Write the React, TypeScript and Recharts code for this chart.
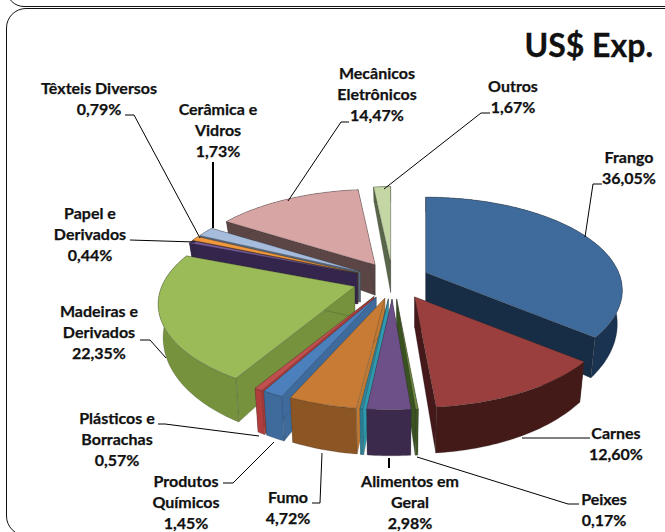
import { Pie, PieChart } from "recharts";

const CATEGORIES = [
  "Frango", "Carnes", "Peixes", "Alimentos em Geral", "", "Fumo", "Produtos Químicos",
  "Plásticos e Borrachas", "Madeiras e Derivados", "Papel e Derivados", "Têxteis Diversos",
  "Cerâmica e Vidros", "Mecânicos Eletrônicos", "Outros",
];
const VALUES = [36.05, 12.6, 0.17, 2.98, 0.21, 4.72, 1.45, 0.57, 22.35, 0.44, 0.79, 1.73, 14.47, 1.67];

const TOP_COLORS = ["#3F6A9C", "#9A3F3D", "#6F8B3F", "#6D5088", "#31849B", "#C77B35", "#4B80BD", "#C0504D", "#9BBB59", "#7A5A9E", "#F3983B", "#A6BCDD", "#D8A5A5", "#C3D6A4"];
const WALL_COLORS = ["#1A3350", "#431A17", "#3E5522", "#3B2A4C", "#2A7F96", "#8C5524", "#3E6A9C", "#B03C3C", "#76923C", "#33254B", "#7A4A1A", "#5A6A80", "#5B4545", "#59664A"];
const CUT_COLORS = ["#172C45", "#45181A", "#3A5220", "#3B2A4C", "#2E9AAF", "#C07A33", "#3E6A9C", "#A83A3A", "#76923C", "#33254B", "#7A4A1A", "#5A6A80", "#5B4545", "#59664A"];

// back to front, a 3D pie has to be painted in this order
const PAINT_ORDER = [13, 12, 11, 10, 9, 8, 0, 1, 7, 6, 5, 4, 2, 3];

// the original explosion is not quite uniform, small sideways nudge per slice
const NUDGE_X = [0, 5, 1, 0, 0, 2, 0, 0, -3, -1, -1, 0, 2, 0];

// label lines, centre x, first baseline middle y
const LABEL_LINES: string[][] = [
  ["Frango"], ["Carnes"], ["Peixes"], ["Alimentos em", "Geral"], [], ["Fumo"], ["Produtos", "Químicos"],
  ["Plásticos e", "Borrachas"], ["Madeiras e", "Derivados"], ["Papel e", "Derivados"], ["Têxteis Diversos"],
  ["Cerâmica e", "Vidros"], ["Mecânicos", "Eletrônicos"], ["Outros"],
];
const LABEL_X = [629, 616, 604, 410, 0, 288, 186, 117, 99, 90, 99, 218, 377, 513];
const LABEL_Y = [158, 434, 500, 482, 0, 498, 482, 419, 312, 214, 89, 110, 74, 87];
const LEADERS = [
  "602,184 593,184 585,237",
  "590,438 522,438",
  "579,504 568,504 417,457",
  "389,458 389,468",
  "",
  "322,453 320,503 312,503",
  "274,442 233,483 223,483",
  "158,424 165,424 259,436",
  "140,340 150,340 166,358",
  "130,240 195,242",
  "125,115 134,115 200,238",
  "213,162 213,228",
  "349,122 341,122 288,201",
  "490,113 481,113 384,189",
];
const THICK_LEADERS = [3, 11];

const CX = 392.5;
const CY = 280.5;
const RADIUS = 193;
const EXPLODE_X = 36.7;
const EXPLODE_Y = 18.5;
const TILT = 0.465;
const PERSPECTIVE = 0.19;
const rad = (deg: number) => (deg * Math.PI) / 180;

const tableData = CATEGORIES.map((name, i) => ({ name, value: VALUES[i] }));

function depthAt(z: number) {
  return 30.5 + 15.5 * z;
}

function project(ax: number, ay: number, theta: number, r: number, bottom: boolean): [number, number] {
  const z = -Math.cos(rad(theta));
  const f = 1 / (1 - PERSPECTIVE * z);
  const x = Math.sin(rad(theta)) * r * f;
  const y = TILT * r * z * f;
  if (bottom) return [ax + x * 0.975, ay + y + depthAt(z)];
  return [ax + x, ay + y];
}

const pts = (list: [number, number][]) =>
  "M" + list.map((p) => `${p[0].toFixed(1)},${p[1].toFixed(1)}`).join("L") + "Z";

function Slice3D(props: any) {
  const { cx, cy, outerRadius, startAngle, endAngle, index } = props;
  const t0 = 90 - startAngle;
  const t1 = 90 - endAngle;
  const mid = (t0 + t1) / 2;
  const ax = cx + EXPLODE_X * Math.sin(rad(mid)) + NUDGE_X[index];
  const ay = cy - EXPLODE_Y * Math.cos(rad(mid));
  const steps = Math.max(2, Math.ceil(t1 - t0));
  const topArc: [number, number][] = [];
  const lowArc: [number, number][] = [];
  for (let i = 0; i <= steps; i++) {
    const t = t0 + ((t1 - t0) * i) / steps;
    topArc.push(project(ax, ay, t, outerRadius, false));
    lowArc.push(project(ax, ay, t, outerRadius, true));
  }
  const apexTop: [number, number] = [ax, ay];
  const apexLow: [number, number] = [ax, ay + depthAt(0)];
  const edge = "rgba(50,50,50,0.45)";
  return (
    <g>
      <path d={pts([apexTop, topArc[0], lowArc[0], apexLow])} fill={CUT_COLORS[index]} stroke={edge} strokeWidth={0.5} />
      <path d={pts([apexTop, topArc[steps], lowArc[steps], apexLow])} fill={CUT_COLORS[index]} stroke={edge} strokeWidth={0.5} />
      <path d={pts([...topArc, ...[...lowArc].reverse()])} fill={WALL_COLORS[index]} stroke={edge} strokeWidth={0.5} />
      <path d={pts([apexTop, ...topArc])} fill={TOP_COLORS[index]} stroke={edge} strokeWidth={0.6} />
    </g>
  );
}

function SliceLabel(props: any) {
  const { index } = props;
  const lines = LABEL_LINES[index];
  if (!lines.length) return <g />;
  const pct = VALUES[index].toFixed(2).replace(".", ",") + "%";
  return (
    <g>
      <polyline
        points={LEADERS[index]}
        fill="none"
        stroke="#000"
        strokeWidth={THICK_LEADERS.includes(index) ? 2 : 1}
      />
      <text
        x={LABEL_X[index]}
        textAnchor="middle"
        fontFamily="Lato, sans-serif"
        fontWeight={700}
        fontSize={16}
        fill="#111"
        stroke="#111"
        strokeWidth={0.25}
      >
        {[...lines, pct].map((line, i) => (
          <tspan key={i} x={LABEL_X[index]} y={LABEL_Y[index] + i * 21 + 5}>
            {line}
          </tspan>
        ))}
      </text>
    </g>
  );
}

export default function App() {
  return (
    <div style={{ position: "absolute", left: 0, top: 0, width: 665, height: 532, overflow: "hidden", background: "#fff" }}>
      <div style={{ position: "absolute", left: 6, top: -60, width: 700, height: 65, border: "1.5px solid #111", borderRadius: 18 }} />
      <div style={{ position: "absolute", left: 6, top: 8, width: 700, height: 526, border: "1.5px solid #111", borderRadius: 20 }} />
      <div
        style={{
          position: "absolute",
          right: 12,
          top: 23,
          fontFamily: "Lato, sans-serif",
          fontWeight: 700,
          fontSize: 32,
          lineHeight: "44px",
          color: "#111",
          WebkitTextStroke: "0.3px #111",
        }}
      >
        US$ Exp.
      </div>
      <div style={{ position: "absolute", left: 0, top: 0 }}>
        <PieChart width={665} height={532} margin={{ top: 0, right: 0, bottom: 0, left: 0 }}>
          {PAINT_ORDER.map((sliceIndex, order) => (
            <Pie
              key={sliceIndex}
              data={tableData}
              dataKey="value"
              nameKey="name"
              cx={CX}
              cy={CY}
              innerRadius={0}
              outerRadius={RADIUS}
              startAngle={90}
              endAngle={-270}
              stroke="none"
              isAnimationActive={false}
              labelLine={false}
              label={order === PAINT_ORDER.length - 1 ? (p: any) => <SliceLabel {...p} /> : false}
              shape={(p: any) => (p.index === sliceIndex ? <Slice3D {...p} /> : <g />)}
            />
          ))}
        </PieChart>
      </div>
    </div>
  );
}
